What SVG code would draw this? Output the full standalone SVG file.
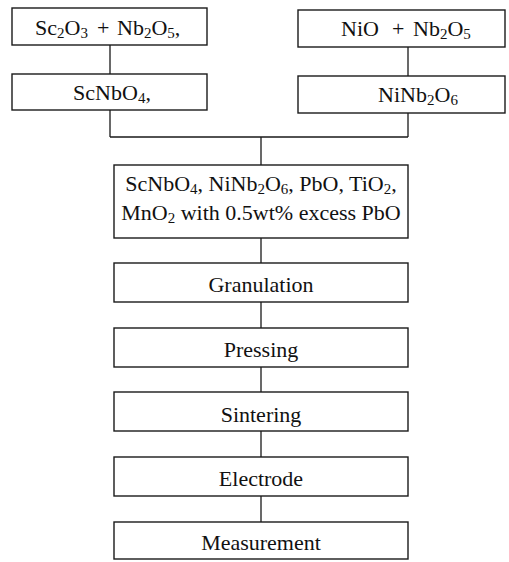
<svg xmlns="http://www.w3.org/2000/svg" width="509" height="562" viewBox="0 0 509 562">
<style>
  .box{fill:#fff;stroke:#1a1a1a;stroke-width:1.4}
  .con{fill:none;stroke:#1a1a1a;stroke-width:1.3}
  text{font-family:"Liberation Serif","Times New Roman",serif;font-size:22px;fill:#111}
  .c{text-anchor:middle}
  .s{font-size:15px}
</style>
<rect width="509" height="562" fill="#fff"/>
<g id="connectors">
  <path class="con" d="M110,45V74 M408,47V76 M110,110V137 M408,113V137 M110,137H408 M261,137V165 M261,238V263 M261,302V328 M261,367V392 M261,431V457 M261,496V522"/>
</g>
<g id="n1">
  <rect class="box" x="12" y="8" width="195" height="37"/>
  <text x="35" y="35">Sc<tspan class="s" dy="3">2</tspan><tspan dy="-3">O</tspan><tspan class="s" dy="3">3</tspan></text>
  <text x="97" y="35">+</text>
  <text x="117" y="35">Nb<tspan class="s" dy="3">2</tspan><tspan dy="-3">O</tspan><tspan class="s" dy="3">5</tspan><tspan dy="-3">,</tspan></text>
</g>
<g id="n2">
  <rect class="box" x="298" y="10" width="207" height="37"/>
  <text x="341" y="36">NiO</text>
  <text x="392" y="36">+</text>
  <text x="413" y="36">Nb<tspan class="s" dy="3">2</tspan><tspan dy="-3">O</tspan><tspan class="s" dy="3">5</tspan></text>
</g>
<g id="n3">
  <rect class="box" x="12" y="74" width="195" height="36"/>
  <text class="c" x="112" y="100">ScNbO<tspan class="s" dy="3">4</tspan><tspan dy="-3">,</tspan></text>
</g>
<g id="n4">
  <rect class="box" x="298" y="76" width="207" height="37"/>
  <text class="c" x="418" y="102">NiNb<tspan class="s" dy="3">2</tspan><tspan dy="-3">O</tspan><tspan class="s" dy="3">6</tspan></text>
</g>
<g id="n5">
  <rect class="box" x="114" y="165" width="294" height="73"/>
  <text class="c" x="261" y="191">ScNbO<tspan class="s" dy="3">4</tspan><tspan dy="-3">, NiNb</tspan><tspan class="s" dy="3">2</tspan><tspan dy="-3">O</tspan><tspan class="s" dy="3">6</tspan><tspan dy="-3">, PbO, TiO</tspan><tspan class="s" dy="3">2</tspan><tspan dy="-3">,</tspan></text>
  <text class="c" x="261" y="220">MnO<tspan class="s" dy="3">2</tspan><tspan dy="-3"> with 0.5wt% excess PbO</tspan></text>
</g>
<g id="n6">
  <rect class="box" x="114" y="263" width="294" height="39"/>
  <text class="c" x="261" y="292">Granulation</text>
</g>
<g id="n7">
  <rect class="box" x="114" y="328" width="294" height="39"/>
  <text class="c" x="261" y="357">Pressing</text>
</g>
<g id="n8">
  <rect class="box" x="114" y="392" width="294" height="39"/>
  <text class="c" x="261" y="422">Sintering</text>
</g>
<g id="n9">
  <rect class="box" x="114" y="457" width="294" height="39"/>
  <text class="c" x="261" y="486">Electrode</text>
</g>
<g id="n10">
  <rect class="box" x="114" y="522" width="294" height="37"/>
  <text class="c" x="261" y="550">Measurement</text>
</g>
</svg>
